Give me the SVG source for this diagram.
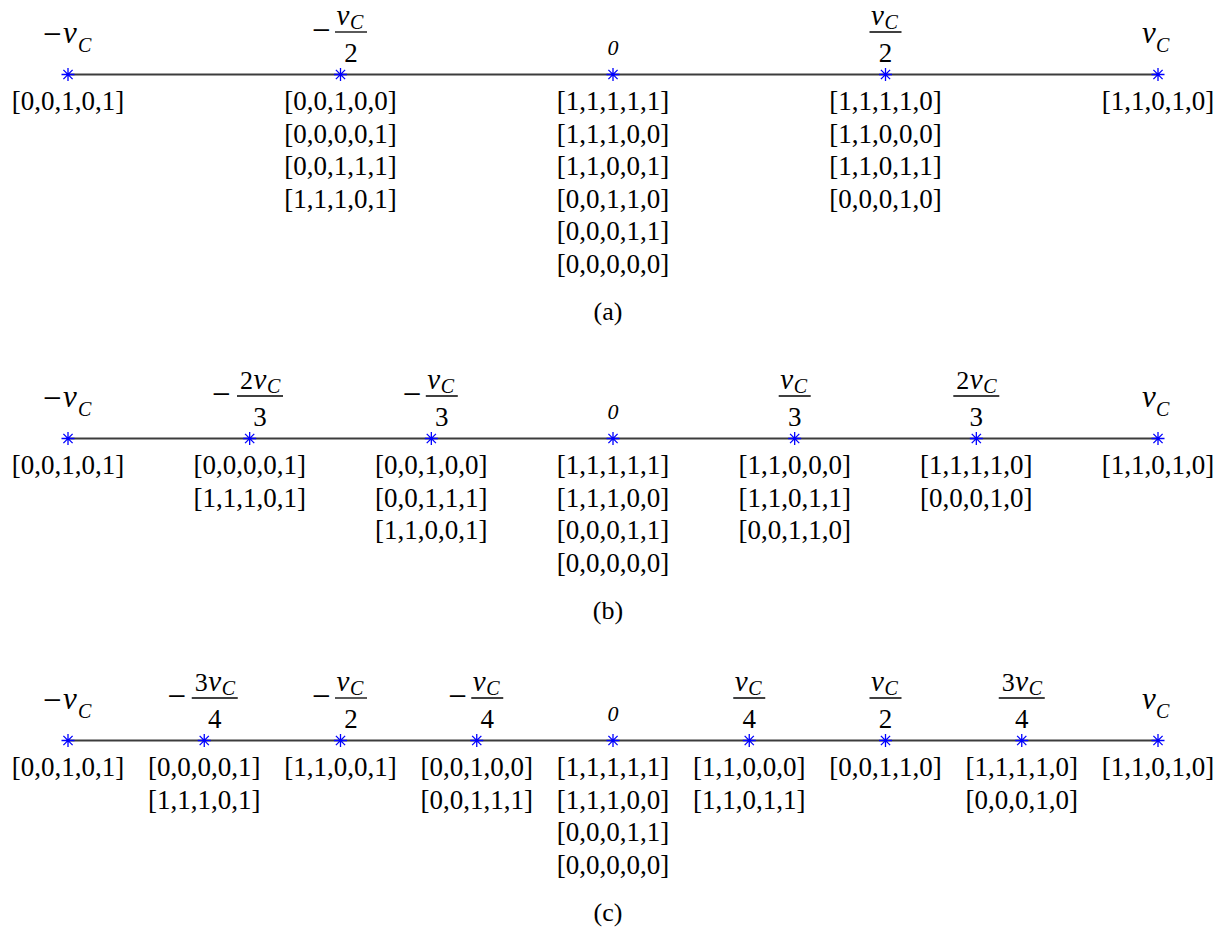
<svg xmlns="http://www.w3.org/2000/svg" xmlns:xlink="http://www.w3.org/1999/xlink" width="1227" height="931" viewBox="0 0 1227 931">
<style>
text{font-family:"Liberation Serif","Times New Roman",serif;fill:#000}
.c{font-size:27px;text-anchor:middle}
.m{font-size:33px}
.d{font-size:27px;text-anchor:middle}
.v{font-size:31px;font-style:italic}
.fv{font-size:29px;font-style:italic}
.s{font-size:20px;font-style:italic}
.n{font-size:26px}
.z{font-size:22px;font-style:italic;text-anchor:middle}
.cap{font-size:26px;text-anchor:middle}
.axis{stroke:#3c3c3c;stroke-width:2;fill:none}
.bar{stroke:#000;stroke-width:1.3}
.star{stroke:#0000ff;stroke-width:1.3;fill:none}
</style>
<defs>
<path id="st" class="star" d="M0,-6.5V6.5M-6.5,0H6.5M-4.6,-4.6L4.6,4.6M-4.6,4.6L4.6,-4.6"/>
</defs>
<rect width="1227" height="931" fill="#fff"/>
<g id="connectors">
<line class="axis" x1="68" y1="74.5" x2="1158" y2="74.5"/>
<line class="axis" x1="68" y1="438.5" x2="1158" y2="438.5"/>
<line class="axis" x1="68" y1="740.5" x2="1158" y2="740.5"/>
</g>
<!-- Panel (a) -->
<g id="panel-a">
<g id="a1">
<use xlink:href="#st" x="68" y="74.5"/>
<text class="m" x="43" y="45">−</text><text class="v" x="63" y="43">v</text><text class="s" x="78" y="52">C</text>
<text class="c" x="68" y="110">[0,0,1,0,1]</text>
</g>
<g id="a2">
<use xlink:href="#st" x="340.5" y="74.5"/>
<text class="m" x="312" y="41">−</text>
<text class="fv" x="336.5" y="25">v</text><text class="s" x="350" y="29">C</text>
<line class="bar" x1="335" y1="32" x2="367" y2="32"/>
<text class="d" x="351" y="62">2</text>
<text class="c" x="340.5" y="110">[0,0,1,0,0]</text>
<text class="c" x="340.5" y="142.5">[0,0,0,0,1]</text>
<text class="c" x="340.5" y="175">[0,0,1,1,1]</text>
<text class="c" x="340.5" y="207.5">[1,1,1,0,1]</text>
</g>
<g id="a3">
<use xlink:href="#st" x="613" y="74.5"/>
<text class="z" x="613" y="55">0</text>
<text class="c" x="613" y="110">[1,1,1,1,1]</text>
<text class="c" x="613" y="142.5">[1,1,1,0,0]</text>
<text class="c" x="613" y="175">[1,1,0,0,1]</text>
<text class="c" x="613" y="207.5">[0,0,1,1,0]</text>
<text class="c" x="613" y="240">[0,0,0,1,1]</text>
<text class="c" x="613" y="272.5">[0,0,0,0,0]</text>
</g>
<g id="a4">
<use xlink:href="#st" x="885.5" y="74.5"/>
<text class="fv" x="871" y="25">v</text><text class="s" x="884.5" y="29">C</text>
<line class="bar" x1="869.5" y1="32" x2="901.5" y2="32"/>
<text class="d" x="885.5" y="62">2</text>
<text class="c" x="885.5" y="110">[1,1,1,1,0]</text>
<text class="c" x="885.5" y="142.5">[1,1,0,0,0]</text>
<text class="c" x="885.5" y="175">[1,1,0,1,1]</text>
<text class="c" x="885.5" y="207.5">[0,0,0,1,0]</text>
</g>
<g id="a5">
<use xlink:href="#st" x="1158" y="74.5"/>
<text class="v" x="1142" y="43">v</text><text class="s" x="1156" y="52">C</text>
<text class="c" x="1158" y="110">[1,1,0,1,0]</text>
</g>
<text id="cap-a" class="cap" x="608" y="320">(a)</text>
</g>
<!-- Panel (b) -->
<g id="panel-b" transform="translate(0,364)">
<g id="b1">
<use xlink:href="#st" x="68" y="74.5"/>
<text class="m" x="43" y="45">−</text><text class="v" x="63" y="43">v</text><text class="s" x="78" y="52">C</text>
<text class="c" x="68" y="110">[0,0,1,0,1]</text>
</g>
<g id="b2">
<use xlink:href="#st" x="249.67" y="74.5"/>
<text class="m" x="212" y="41">−</text>
<text class="n" x="240" y="25">2</text><text class="fv" x="253.5" y="25">v</text><text class="s" x="267" y="29">C</text>
<line class="bar" x1="237" y1="32" x2="283" y2="32"/>
<text class="d" x="260" y="62">3</text>
<text class="c" x="249.67" y="110">[0,0,0,0,1]</text>
<text class="c" x="249.67" y="142.5">[1,1,1,0,1]</text>
</g>
<g id="b3">
<use xlink:href="#st" x="431.33" y="74.5"/>
<text class="m" x="402.8" y="41">−</text>
<text class="fv" x="427.3" y="25">v</text><text class="s" x="440.8" y="29">C</text>
<line class="bar" x1="425.8" y1="32" x2="457.8" y2="32"/>
<text class="d" x="441.8" y="62">3</text>
<text class="c" x="431.33" y="110">[0,0,1,0,0]</text>
<text class="c" x="431.33" y="142.5">[0,0,1,1,1]</text>
<text class="c" x="431.33" y="175">[1,1,0,0,1]</text>
</g>
<g id="b4">
<use xlink:href="#st" x="613" y="74.5"/>
<text class="z" x="613" y="55">0</text>
<text class="c" x="613" y="110">[1,1,1,1,1]</text>
<text class="c" x="613" y="142.5">[1,1,1,0,0]</text>
<text class="c" x="613" y="175">[0,0,0,1,1]</text>
<text class="c" x="613" y="207.5">[0,0,0,0,0]</text>
</g>
<g id="b5">
<use xlink:href="#st" x="794.67" y="74.5"/>
<text class="fv" x="780.2" y="25">v</text><text class="s" x="793.7" y="29">C</text>
<line class="bar" x1="778.7" y1="32" x2="810.7" y2="32"/>
<text class="d" x="794.7" y="62">3</text>
<text class="c" x="794.67" y="110">[1,1,0,0,0]</text>
<text class="c" x="794.67" y="142.5">[1,1,0,1,1]</text>
<text class="c" x="794.67" y="175">[0,0,1,1,0]</text>
</g>
<g id="b6">
<use xlink:href="#st" x="976.33" y="74.5"/>
<text class="n" x="956.3" y="25">2</text><text class="fv" x="969.8" y="25">v</text><text class="s" x="983.3" y="29">C</text>
<line class="bar" x1="953.3" y1="32" x2="999.3" y2="32"/>
<text class="d" x="976.3" y="62">3</text>
<text class="c" x="976.33" y="110">[1,1,1,1,0]</text>
<text class="c" x="976.33" y="142.5">[0,0,0,1,0]</text>
</g>
<g id="b7">
<use xlink:href="#st" x="1158" y="74.5"/>
<text class="v" x="1142" y="43">v</text><text class="s" x="1156" y="52">C</text>
<text class="c" x="1158" y="110">[1,1,0,1,0]</text>
</g>
<text id="cap-b" class="cap" x="608" y="255">(b)</text>
</g>
<!-- Panel (c) -->
<g id="panel-c" transform="translate(0,666)">
<g id="c1">
<use xlink:href="#st" x="68" y="74.5"/>
<text class="m" x="43" y="45">−</text><text class="v" x="63" y="43">v</text><text class="s" x="78" y="52">C</text>
<text class="c" x="68" y="110">[0,0,1,0,1]</text>
</g>
<g id="c2">
<use xlink:href="#st" x="204.25" y="74.5"/>
<text class="m" x="167.5" y="41">−</text>
<text class="n" x="194.75" y="25">3</text><text class="fv" x="208.25" y="25">v</text><text class="s" x="221.75" y="29">C</text>
<line class="bar" x1="191.75" y1="32" x2="237.75" y2="32"/>
<text class="d" x="214.75" y="62">4</text>
<text class="c" x="204.25" y="110">[0,0,0,0,1]</text>
<text class="c" x="204.25" y="142.5">[1,1,1,0,1]</text>
</g>
<g id="c3">
<use xlink:href="#st" x="340.5" y="74.5"/>
<text class="m" x="312" y="41">−</text>
<text class="fv" x="336.5" y="25">v</text><text class="s" x="350" y="29">C</text>
<line class="bar" x1="335" y1="32" x2="367" y2="32"/>
<text class="d" x="351" y="62">2</text>
<text class="c" x="340.5" y="110">[1,1,0,0,1]</text>
</g>
<g id="c4">
<use xlink:href="#st" x="476.75" y="74.5"/>
<text class="m" x="448.25" y="41">−</text>
<text class="fv" x="472.75" y="25">v</text><text class="s" x="486.25" y="29">C</text>
<line class="bar" x1="471.25" y1="32" x2="503.25" y2="32"/>
<text class="d" x="487.25" y="62">4</text>
<text class="c" x="476.75" y="110">[0,0,1,0,0]</text>
<text class="c" x="476.75" y="142.5">[0,0,1,1,1]</text>
</g>
<g id="c5">
<use xlink:href="#st" x="613" y="74.5"/>
<text class="z" x="613" y="55">0</text>
<text class="c" x="613" y="110">[1,1,1,1,1]</text>
<text class="c" x="613" y="142.5">[1,1,1,0,0]</text>
<text class="c" x="613" y="175">[0,0,0,1,1]</text>
<text class="c" x="613" y="207.5">[0,0,0,0,0]</text>
</g>
<g id="c6">
<use xlink:href="#st" x="749.25" y="74.5"/>
<text class="fv" x="734.75" y="25">v</text><text class="s" x="748.25" y="29">C</text>
<line class="bar" x1="733.25" y1="32" x2="765.25" y2="32"/>
<text class="d" x="749.25" y="62">4</text>
<text class="c" x="749.25" y="110">[1,1,0,0,0]</text>
<text class="c" x="749.25" y="142.5">[1,1,0,1,1]</text>
</g>
<g id="c7">
<use xlink:href="#st" x="885.5" y="74.5"/>
<text class="fv" x="871" y="25">v</text><text class="s" x="884.5" y="29">C</text>
<line class="bar" x1="869.5" y1="32" x2="901.5" y2="32"/>
<text class="d" x="885.5" y="62">2</text>
<text class="c" x="885.5" y="110">[0,0,1,1,0]</text>
</g>
<g id="c8">
<use xlink:href="#st" x="1021.75" y="74.5"/>
<text class="n" x="1001.75" y="25">3</text><text class="fv" x="1015.25" y="25">v</text><text class="s" x="1028.75" y="29">C</text>
<line class="bar" x1="998.75" y1="32" x2="1044.75" y2="32"/>
<text class="d" x="1021.75" y="62">4</text>
<text class="c" x="1021.75" y="110">[1,1,1,1,0]</text>
<text class="c" x="1021.75" y="142.5">[0,0,0,1,0]</text>
</g>
<g id="c9">
<use xlink:href="#st" x="1158" y="74.5"/>
<text class="v" x="1142" y="43">v</text><text class="s" x="1156" y="52">C</text>
<text class="c" x="1158" y="110">[1,1,0,1,0]</text>
</g>
<text id="cap-c" class="cap" x="608" y="255">(c)</text>
</g>
</svg>
